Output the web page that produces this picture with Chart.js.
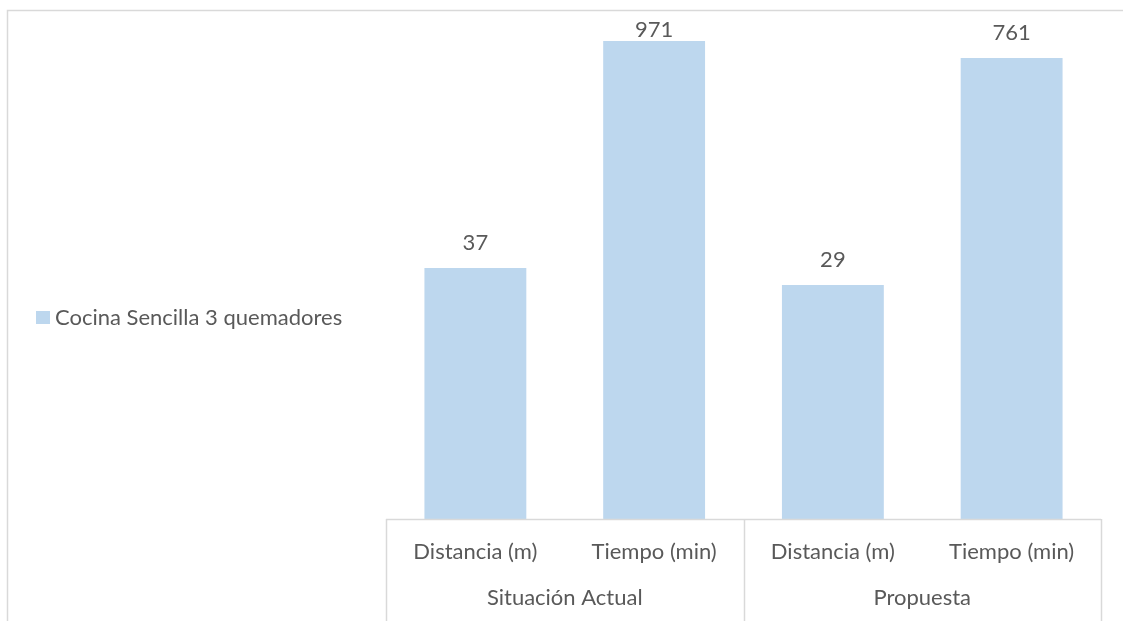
<!DOCTYPE html>
<html>
<head>
<meta charset="utf-8">
<script src="https://cdn.jsdelivr.net/npm/chart.js@4/dist/chart.umd.min.js"></script>
<style>
  html, body { margin: 0; padding: 0; background: #fff; }
  #wrap { width: 1123px; height: 621px; position: relative; }
</style>
</head>
<body>
<div id="wrap"><canvas id="chart"></canvas></div>
<script>
const seriesName = "Cocina Sencilla 3 quemadores";
const categories = ["Distancia (m)", "Tiempo (min)", "Distancia (m)", "Tiempo (min)"];
const groups = ["Situación Actual", "Propuesta"];
const groupSize = [2, 2];
const values = [37, 971, 29, 761];

const barColor = "#BDD7EE";
const textColor = "#595959";
const lineColor = "#D9D9D9";
const fontFamily = "Lato, 'Open Sans', sans-serif";

// frame, two-level category axis, legend and value labels
const decorations = {
  id: "decorations",
  beforeDraw(chart) {
    const ctx = chart.ctx;
    ctx.save();
    ctx.strokeStyle = lineColor;
    ctx.lineWidth = 1.5;
    ctx.beginPath();
    ctx.moveTo(7.5, chart.height);
    ctx.lineTo(7.5, 10.5);
    ctx.lineTo(chart.width, 10.5);
    ctx.stroke();
    ctx.restore();
  },
  afterDraw(chart) {
    const ctx = chart.ctx;
    const area = chart.chartArea;
    const x = chart.scales.x;
    const half = (x.getPixelForValue(1) - x.getPixelForValue(0)) / 2;

    ctx.save();
    ctx.strokeStyle = lineColor;
    ctx.lineWidth = 1.5;
    ctx.beginPath();
    ctx.moveTo(area.left, area.bottom + 0.5);
    ctx.lineTo(area.right, area.bottom + 0.5);
    // group separators
    let idx = 0;
    const edges = [area.left];
    groupSize.forEach((n) => {
      idx += n;
      edges.push(x.getPixelForValue(idx - 1) + half);
    });
    edges.forEach((px) => {
      ctx.moveTo(Math.round(px) + 0.5, area.bottom);
      ctx.lineTo(Math.round(px) + 0.5, chart.height);
    });
    ctx.stroke();

    ctx.fillStyle = textColor;
    ctx.font = "22px " + fontFamily;
    ctx.textAlign = "center";
    ctx.textBaseline = "alphabetic";
    categories.forEach((c, i) => {
      ctx.fillText(c, x.getPixelForValue(i), 559);
    });
    let start = 0;
    groups.forEach((g, gi) => {
      const cx = (edges[gi] + edges[gi + 1]) / 2;
      ctx.fillText(g, cx, 605);
      start += groupSize[gi];
    });

    // value labels above the bars
    const meta = chart.getDatasetMeta(0);
    meta.data.forEach((bar, i) => {
      ctx.fillText(String(values[i]), bar.x, Math.max(bar.y - 18, 37));
    });

    // legend
    ctx.fillStyle = barColor;
    ctx.fillRect(36, 311, 14, 13);
    ctx.fillStyle = textColor;
    ctx.textAlign = "left";
    ctx.fillText(chart.data.datasets[0].label, 55, 325);
    ctx.restore();
  }
};

new Chart(document.getElementById("chart"), {
  type: "bar",
  data: {
    labels: categories,
    datasets: [{
      label: seriesName,
      data: values,
      backgroundColor: barColor,
      borderWidth: 0,
      categoryPercentage: 1,
      barPercentage: 0.57
    }]
  },
  options: {
    responsive: true,
    maintainAspectRatio: false,
    animation: false,
    layout: { padding: { left: 386, right: 22, top: 39, bottom: 102 } },
    plugins: { legend: { display: false }, tooltip: { enabled: false } },
    scales: {
      x: { type: "category", display: false, offset: true },
      y: { type: "logarithmic", display: false, min: 1, max: 1000 }
    }
  },
  plugins: [decorations]
});
</script>
</body>
</html>
